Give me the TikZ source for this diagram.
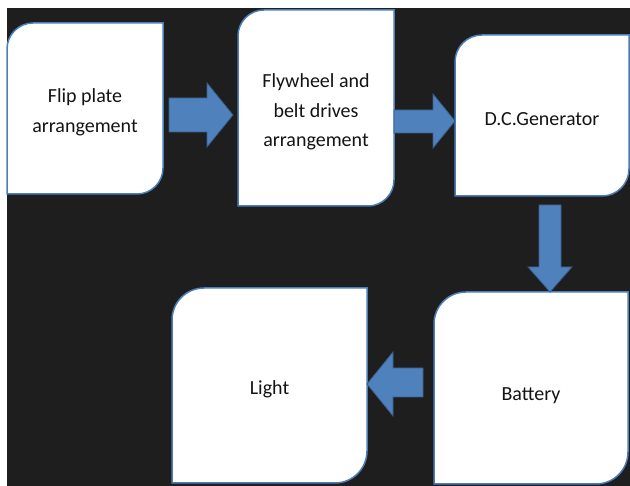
\documentclass[tikz,border=0pt]{standalone}
\usepackage{fontspec}
\setmainfont{Carlito}
\definecolor{boxblue}{RGB}{74,126,187}
\definecolor{arrowfill}{RGB}{79,129,189}
\definecolor{arrowline}{RGB}{56,93,138}
\definecolor{txt}{RGB}{20,20,20}
\definecolor{bgdark}{RGB}{30,30,30}
\tikzset{
  boxline/.style={draw=boxblue, line width=1.5pt, fill=white},
  boxtext/.style={text=txt, align=center, font=\fontsize{20}{29.5}\selectfont, inner sep=0pt},
  blockarrow/.style={fill=arrowfill, draw=arrowline, line width=0.8pt, line join=miter}
}
% name, x1, ybottom, x2, ytop, radius, text, extra vertical shift
\newcommand\rdbox[8]{%
  \path[boxline] (#2,#3) -- (#2,#5-#6) arc[start angle=180,end angle=90,radius=#6]
     -- (#4,#5) -- (#4,#3+#6) arc[start angle=0,end angle=-90,radius=#6] -- cycle;
  \node[boxtext] (#1) at ({(#2+#4)/2},{(#3+#5)/2-4+#8}) {#7};
}
\begin{document}
\begin{tikzpicture}[x=1pt,y=1pt]
\useasboundingbox (0,0) rectangle (630,486);
\fill[white] (0,0) rectangle (630,486);
\fill[bgdark] (7,0) rectangle (630,478);
\rdbox{flip}{7}{292}{163}{463}{26}{Flip plate\\arrangement}{0}
\rdbox{fly}{238}{280}{394}{476}{26}{Flywheel and\\belt drives\\arrangement}{0}
\rdbox{gen}{455}{290}{629}{451}{27}{D.C.Generator}{0}
\rdbox{light}{172}{3}{367}{198}{32}{Light}{0}
\rdbox{bat}{434}{2}{628}{194}{32}{Battery}{-4}
% block arrows
\path[blockarrow] (169,388) -- (207,388) -- (207,403) -- (233,371) -- (207,339) -- (207,354) -- (169,354) -- cycle;
\path[blockarrow] (394,376) -- (433,376) -- (433,392) -- (455,365) -- (433,338) -- (433,353) -- (394,353) -- cycle;
\path[blockarrow] (539,281) -- (539,219) -- (528,219) -- (550,194) -- (572,219) -- (561,219) -- (561,281) -- cycle;
\path[blockarrow] (423,118) -- (393,118) -- (393,134) -- (367,102) -- (393,70) -- (393,89) -- (423,89) -- cycle;
\end{tikzpicture}
\end{document}
